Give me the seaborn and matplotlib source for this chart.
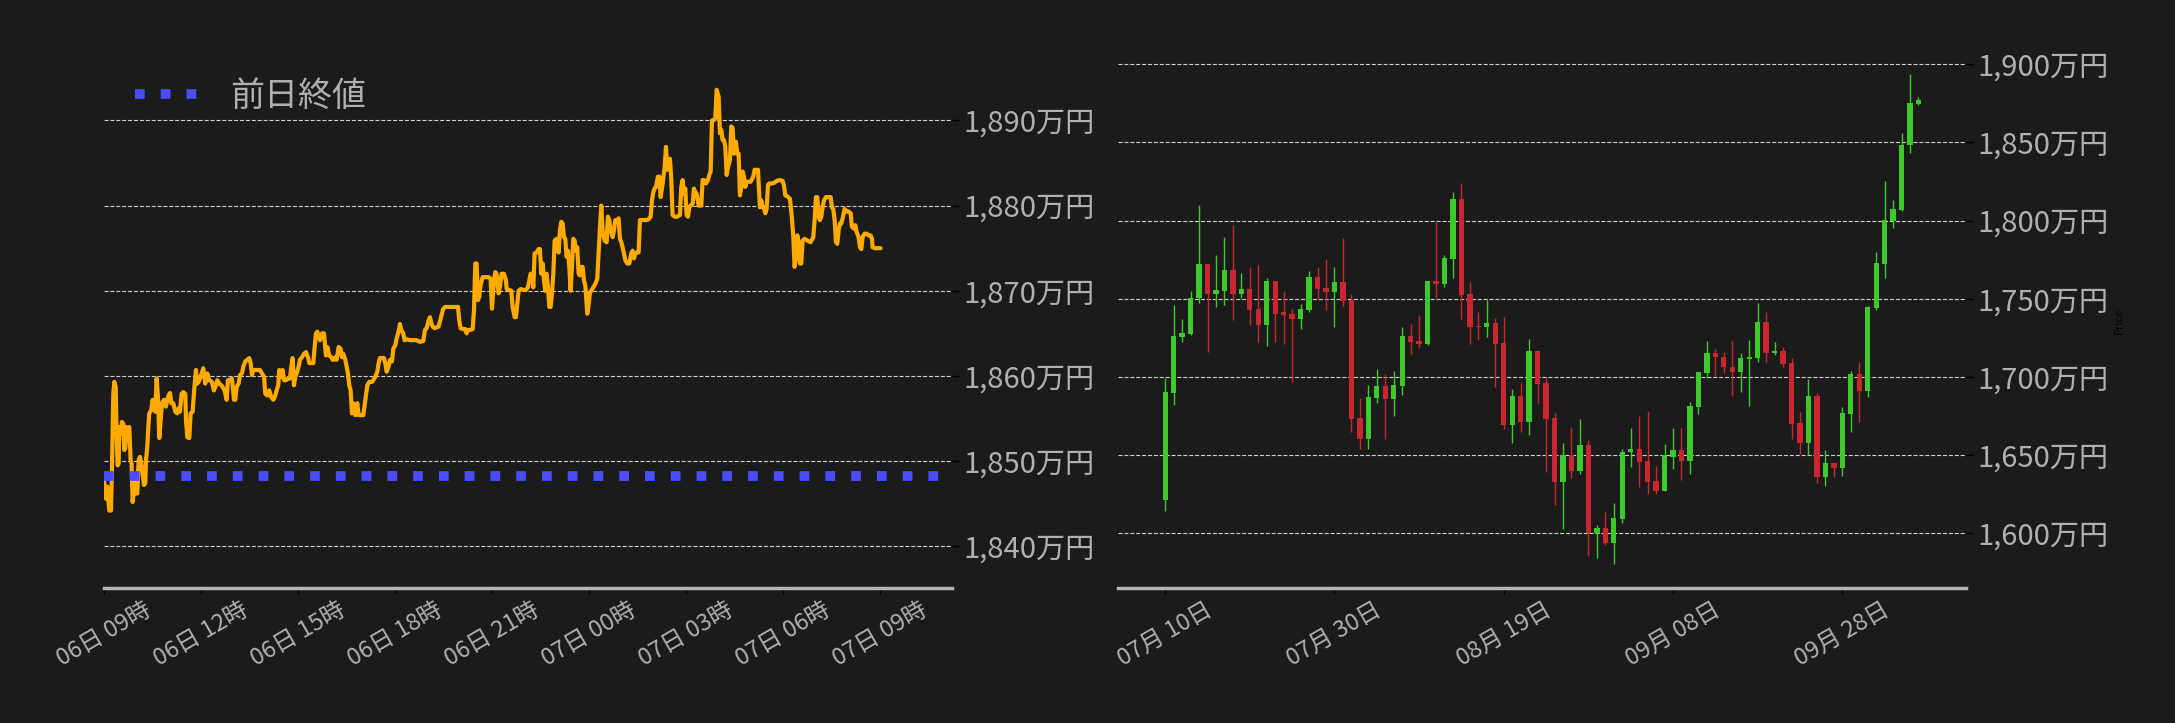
import numpy as np
import pandas as pd
import matplotlib
matplotlib.use("Agg")
import matplotlib.pyplot as plt
import matplotlib.dates as mdates
import matplotlib.ticker as mticker
import seaborn as sns

# 当日の値動き (06日 09:00 からの経過分, 万円)
intraday_min = [
    0, 3.7, 6.2, 9.9, 13.0, 14.9, 17.3, 19.2, 21.7, 23.5, 25.4, 27.2, 28.5, 31.0, 33.4, 35.9,
    37.7, 39.6, 41.5, 44.5, 47.0, 49.5, 51.3, 53.2, 55.1, 56.9, 59.4, 61.9, 64.3, 66.8, 69.3,
    71.8, 74.2, 76.7, 78.0, 80.4, 82.3, 84.1, 87.8, 90.3, 92.8, 95.3, 97.7, 100.2, 102.7,
    105.2, 107.6, 111.4, 115.1, 117.5, 120.0, 122.5, 125.0, 128.7, 132.4, 136.1, 138.6,
    141.0, 144.1, 147.2, 151.0, 152.2, 154.7, 158.4, 160.8, 164.5, 167.6, 170.7, 173.2,
    175.7, 179.4, 184.4, 188.0, 191.8, 195.5, 200.4, 204.1, 207.9, 210.3, 214.0, 217.8,
    220.2, 223.9, 227.6, 230.1, 233.8, 237.5, 241.3, 243.7, 246.2, 249.9, 252.4, 256.1,
    258.6, 262.3, 266.0, 269.7, 272.2, 274.7, 277.1, 280.8, 284.6, 289.5, 293.2, 297.0,
    299.4, 303.1, 306.8, 310.5, 314.3, 318.0, 320.4, 323.5, 325.4, 329.1, 331.6, 334.1,
    337.8, 341.5, 345.2, 347.7, 350.1, 352.6, 355.1, 357.6, 361.3, 363.7, 367.5, 371.2,
    374.9, 378.6, 381.1, 384.8, 388.5, 391.0, 393.4, 395.9, 398.4, 400.9, 404.6, 408.3,
    412.0, 414.5, 418.2, 421.9, 424.4, 426.8, 429.3, 431.8, 435.5, 439.2, 441.7, 444.2,
    447.9, 450.3, 452.8, 455.3, 457.8, 460.2, 462.7, 466.4, 470.1, 472.6, 476.3, 481.3,
    483.8, 486.2, 488.7, 492.4, 497.4, 499.8, 503.5, 507.3, 509.7, 512.2, 517.2, 519.6,
    522.1, 524.6, 528.3, 530.8, 534.5, 537.0, 540.7, 543.1, 546.8, 549.3, 551.8, 555.5,
    558.0, 561.7, 567.9, 574.1, 580.3, 586.4, 592.6, 595.7, 598.8, 602.5, 605.0, 607.5,
    609.9, 613.7, 617.4, 621.1, 623.6, 626.6, 629.7, 633.4, 638.4, 644.6, 650.8, 657.0,
    659.4, 661.9, 666.9, 670.6, 673.0, 675.5, 679.2, 684.2, 686.7, 689.1, 691.6, 694.1,
    696.5, 699.0, 702.7, 705.2, 710.2, 713.9, 717.6, 720.1, 723.8, 726.2, 728.7, 732.4,
    734.9, 738.0, 742.3, 746.0, 747.3, 752.2, 755.9, 758.4, 762.1, 764.6, 767.1, 769.5,
    773.3, 778.2, 783.2, 786.9, 789.3, 791.8, 794.3, 796.8, 799.2, 803.0, 806.7, 809.1,
    811.6, 814.1, 816.6, 819.0, 821.5, 824.0, 826.5, 828.9, 831.4, 833.9, 836.4, 840.1,
    843.8, 846.2, 848.7, 851.2, 853.7, 856.1, 858.6, 861.1, 863.6, 866.0, 868.5, 871.0,
    873.5, 875.9, 878.4, 880.9, 883.4, 885.8, 888.3, 890.8, 893.3, 894.5, 897.0, 899.4,
    901.9, 904.4, 908.1, 911.8, 915.5, 918.0, 920.5, 923.0, 925.4, 929.1, 932.9, 935.3,
    937.8, 940.3, 944.0, 946.5, 948.9, 952.6, 955.1, 957.6, 960.1, 962.5, 965.0, 967.5,
    971.2, 974.9, 978.6, 981.1, 983.6, 986.0, 989.8, 992.2, 994.7, 997.2, 1002.1, 1007.1,
    1010.8, 1014.5, 1017.0, 1019.5, 1021.9, 1024.4, 1028.1, 1030.6, 1033.1, 1036.8, 1040.5,
    1043.0, 1045.4, 1047.9, 1050.4, 1052.9, 1055.3, 1059.0, 1064.0, 1068.9, 1071.4, 1073.9,
    1076.4, 1078.8, 1081.3, 1083.8, 1086.3, 1088.7, 1092.5, 1094.9, 1097.4, 1099.9, 1103.6,
    1108.5, 1111.0, 1113.5, 1117.2, 1120.9, 1123.4, 1125.9, 1128.3, 1130.8, 1134.5, 1137.0,
    1140.7, 1143.2, 1145.7, 1148.1, 1150.6, 1153.1, 1155.6, 1158.0, 1161.7, 1164.2, 1166.7,
    1169.2, 1172.9, 1175.3, 1177.8, 1180.3, 1182.8, 1185.2, 1187.7, 1190.2, 1192.7, 1196.4,
    1200.1, 1205.0, 1207.5, 1211.2, 1213.7, 1217.4, 1219.9, 1222.4, 1224.8, 1227.3, 1229.8,
    1232.3, 1234.7, 1239.7, 1244.6, 1248.3, 1254.5, 1259.5, 1261.9, 1264.4, 1268.1, 1273.1,
    1276.8, 1279.3, 1281.7, 1284.2, 1286.7, 1289.1, 1291.6, 1294.1, 1296.6, 1300.3, 1305.2,
    1311.4, 1316.4, 1318.8, 1321.3, 1323.8, 1326.3, 1328.7, 1331.2, 1333.7, 1336.2, 1339.9,
    1344.8, 1348.6, 1351.0, 1353.5, 1356.0, 1358.5, 1360.9, 1363.4, 1365.9, 1368.3, 1370.8,
    1374.5, 1378.2, 1382.0, 1385.7, 1388.1, 1391.9, 1394.3, 1396.8, 1400.5, 1403.0, 1405.5,
    1407.9, 1411.6, 1415.4, 1419.1, 1422.8, 1425.3, 1426.5, 1431.5, 1436.4, 1441.3,
]
intraday_price = [
    1847.8, 1845.6, 1847.0, 1844.2, 1844.2, 1849.3, 1857.9, 1859.3, 1858.7, 1853.2, 1849.5,
    1849.7, 1854.0, 1853.2, 1854.6, 1854.4, 1851.3, 1851.5, 1854.0, 1853.6, 1854.0, 1850.1,
    1849.7, 1845.2, 1846.2, 1848.1, 1846.2, 1846.2, 1850.1, 1850.5, 1849.7, 1848.5, 1847.2,
    1847.4, 1850.1, 1851.7, 1854.0, 1855.6, 1856.0, 1857.2, 1856.4, 1855.8, 1859.7, 1857.5,
    1852.7, 1854.8, 1856.8, 1857.2, 1856.4, 1857.2, 1857.7, 1858.0, 1856.8, 1856.8, 1855.8,
    1855.6, 1856.2, 1855.8, 1857.9, 1858.1, 1857.9, 1854.8, 1852.8, 1852.7, 1855.6, 1855.8,
    1858.5, 1860.7, 1859.1, 1859.3, 1859.9, 1860.9, 1859.1, 1860.3, 1859.5, 1859.3, 1858.3,
    1858.9, 1859.5, 1859.1, 1858.9, 1858.7, 1858.3, 1857.2, 1859.5, 1859.5, 1859.7, 1857.2,
    1857.2, 1858.7, 1859.1, 1860.1, 1860.3, 1861.1, 1861.7, 1861.9, 1862.1, 1861.5, 1860.1,
    1860.7, 1860.7, 1860.7, 1860.7, 1860.3, 1859.9, 1857.9, 1857.7, 1858.3, 1857.5, 1857.2,
    1857.7, 1858.3, 1858.9, 1860.7, 1859.9, 1860.7, 1859.5, 1859.5, 1859.7, 1859.7, 1861.1,
    1862.1, 1858.9, 1859.9, 1860.3, 1861.1, 1861.9, 1862.2, 1862.6, 1862.8, 1862.2, 1861.5,
    1861.5, 1861.5, 1863.4, 1865.0, 1865.2, 1864.6, 1864.2, 1865.0, 1865.0, 1862.4, 1863.4,
    1862.4, 1862.2, 1861.9, 1861.9, 1862.2, 1861.9, 1863.4, 1863.2, 1862.2, 1862.6, 1861.9,
    1861.1, 1860.3, 1858.9, 1858.3, 1855.6, 1856.8, 1855.4, 1856.8, 1855.4, 1855.4, 1855.4,
    1856.6, 1857.7, 1858.9, 1859.3, 1859.3, 1859.5, 1859.9, 1860.5, 1861.5, 1862.1, 1862.1,
    1862.1, 1861.5, 1860.5, 1861.1, 1861.9, 1861.7, 1863.2, 1863.6, 1864.4, 1865.2, 1866.1,
    1865.4, 1865.0, 1864.2, 1864.3, 1864.2, 1864.2, 1864.2, 1864.0, 1864.1, 1865.4, 1865.6,
    1866.5, 1866.9, 1866.2, 1865.8, 1865.6, 1865.7, 1865.8, 1866.4, 1867.1, 1867.9, 1868.1,
    1868.1, 1868.1, 1868.1, 1868.1, 1866.5, 1865.6, 1865.5, 1865.5, 1865.0, 1865.4, 1865.4,
    1865.5, 1867.7, 1873.2, 1873.2, 1868.9, 1869.3, 1870.7, 1871.6, 1871.6, 1871.6, 1871.6,
    1871.4, 1867.9, 1871.2, 1872.2, 1872.0, 1869.7, 1870.5, 1872.0, 1872.0, 1871.2, 1870.2,
    1870.1, 1870.0, 1868.1, 1866.9, 1866.9, 1868.5, 1870.0, 1870.2, 1870.1, 1870.1, 1870.4,
    1871.2, 1872.0, 1872.0, 1870.4, 1874.4, 1874.5, 1874.9, 1874.9, 1872.0, 1873.2, 1871.2,
    1870.0, 1872.0, 1870.4, 1868.1, 1868.1, 1869.6, 1872.0, 1875.9, 1876.1, 1874.5, 1877.1,
    1878.1, 1877.9, 1876.3, 1876.1, 1874.0, 1874.7, 1872.8, 1870.0, 1872.8, 1876.1, 1875.9,
    1874.7, 1875.1, 1872.0, 1871.8, 1872.8, 1872.8, 1871.2, 1870.6, 1869.6, 1867.3, 1868.3,
    1869.8, 1870.0, 1870.4, 1870.8, 1871.4, 1874.4, 1877.5, 1880.0, 1877.1, 1875.9, 1875.7,
    1878.7, 1878.3, 1877.1, 1876.3, 1877.1, 1878.3, 1878.3, 1878.5, 1876.1, 1875.7, 1875.1,
    1874.4, 1873.6, 1873.2, 1873.2, 1874.4, 1874.7, 1873.8, 1874.4, 1874.5, 1874.5, 1878.3,
    1878.3, 1878.3, 1878.3, 1878.4, 1878.7, 1880.6, 1881.6, 1882.0, 1882.2, 1883.4, 1883.4,
    1881.0, 1882.6, 1884.5, 1886.9, 1884.2, 1885.3, 1885.5, 1883.0, 1878.9, 1878.7, 1878.7,
    1878.9, 1882.2, 1883.0, 1881.4, 1882.0, 1878.9, 1878.7, 1879.8, 1880.0, 1880.2, 1882.0,
    1881.6, 1881.4, 1880.0, 1880.0, 1883.0, 1883.0, 1882.6, 1883.0, 1883.6, 1884.0, 1890.0,
    1890.0, 1890.2, 1893.6, 1892.8, 1888.5, 1888.9, 1887.7, 1887.7, 1886.9, 1883.6, 1884.5,
    1885.3, 1889.3, 1889.1, 1886.1, 1887.5, 1886.1, 1886.1, 1881.2, 1882.2, 1884.0, 1883.4,
    1882.2, 1882.8, 1882.8, 1882.8, 1883.4, 1884.2, 1884.2, 1884.2, 1879.8, 1880.6, 1879.8,
    1879.8, 1879.1, 1879.6, 1882.4, 1882.6, 1882.6, 1882.7, 1882.9, 1883.0, 1882.9, 1882.4,
    1881.2, 1881.1, 1880.8, 1878.5, 1876.3, 1872.8, 1874.0, 1876.5, 1875.7, 1873.2, 1873.2,
    1875.9, 1876.1, 1875.9, 1875.7, 1876.3, 1878.3, 1881.0, 1881.0, 1878.7, 1878.3, 1878.7,
    1879.8, 1880.6, 1881.0, 1881.0, 1881.0, 1879.8, 1879.6, 1878.3, 1875.7, 1875.5, 1877.1,
    1877.9, 1877.9, 1878.5, 1879.6, 1879.3, 1879.3, 1879.1, 1877.5, 1877.3, 1877.7, 1876.9,
    1876.3, 1875.1, 1874.9, 1876.3, 1876.7, 1876.7, 1876.5, 1876.5, 1876.1, 1875.1, 1875.0,
    1875.0, 1875.0,
]
prev_close = 1848.3

# 日足 (07月10日から, 万円)
candle_start = "2025-07-10"
opens = [
    1621.5, 1690.0, 1725.8, 1727.7, 1750.3, 1772.1, 1753.3, 1755.2, 1768.4, 1753.3,
    1756.3, 1743.5, 1733.5, 1761.4, 1741.6, 1740.1, 1737.3, 1743.1, 1763.9, 1756.9,
    1754.6, 1760.8, 1749.3, 1673.8, 1660.6, 1686.8, 1694.2, 1686.1, 1694.4, 1726.2,
    1723.0, 1721.3, 1761.4, 1759.1, 1775.7, 1813.9, 1752.9, 1732.6, 1732.2, 1734.3,
    1721.5, 1669.5, 1687.8, 1671.4, 1716.6, 1696.2, 1673.8, 1633.0, 1649.9, 1640.1,
    1656.3, 1600.0, 1603.2, 1594.0, 1609.4, 1652.2, 1653.7, 1646.1, 1633.3, 1627.3,
    1649.0, 1653.1, 1646.5, 1681.0, 1702.8, 1715.1, 1712.6, 1706.4, 1703.4, 1711.7,
    1712.4, 1735.2, 1715.1, 1716.6, 1708.9, 1670.6, 1657.6, 1687.8, 1636.2, 1644.8,
    1642.0, 1676.5, 1701.9, 1691.3, 1744.3, 1772.5, 1799.8, 1806.8, 1848.0, 1874.6,
]
highs = [
    1699.6, 1745.8, 1736.9, 1754.8, 1809.8, 1772.1, 1777.8, 1789.3, 1797.0, 1766.3,
    1770.1, 1771.4, 1763.5, 1761.4, 1754.8, 1743.3, 1746.5, 1767.6, 1770.1, 1775.3,
    1770.1, 1788.7, 1752.9, 1686.4, 1694.7, 1704.9, 1701.7, 1704.1, 1731.8, 1733.7,
    1739.4, 1761.4, 1798.9, 1777.8, 1818.1, 1823.9, 1760.6, 1741.2, 1749.0, 1737.5,
    1738.6, 1692.1, 1696.2, 1724.1, 1716.6, 1699.6, 1676.8, 1657.6, 1668.0, 1672.9,
    1659.5, 1605.1, 1613.4, 1619.2, 1653.7, 1667.2, 1675.1, 1678.3, 1642.9, 1656.9,
    1667.2, 1667.2, 1683.8, 1703.2, 1722.8, 1717.9, 1715.8, 1723.0, 1715.4, 1723.7,
    1747.1, 1741.6, 1722.2, 1719.2, 1711.9, 1677.4, 1698.5, 1689.6, 1653.3, 1644.8,
    1680.6, 1703.6, 1709.4, 1745.4, 1780.0, 1825.2, 1813.0, 1855.9, 1893.6, 1878.9,
]
lows = [
    1614.5, 1681.9, 1722.2, 1726.7, 1747.1, 1715.8, 1744.6, 1745.8, 1736.2, 1750.3,
    1733.0, 1722.2, 1719.6, 1722.2, 1720.9, 1696.6, 1730.5, 1741.2, 1749.0, 1743.1,
    1731.8, 1745.2, 1664.6, 1653.9, 1653.9, 1683.2, 1660.1, 1674.8, 1688.3, 1714.5,
    1718.3, 1720.3, 1750.3, 1757.4, 1763.1, 1736.9, 1720.9, 1723.5, 1725.4, 1693.8,
    1666.5, 1657.6, 1664.6, 1662.7, 1683.2, 1639.4, 1617.9, 1602.6, 1635.2, 1637.7,
    1585.3, 1584.0, 1592.2, 1580.2, 1606.4, 1642.2, 1629.4, 1625.4, 1625.4, 1627.3,
    1641.4, 1634.3, 1637.7, 1676.1, 1699.6, 1700.9, 1702.8, 1688.1, 1690.2, 1681.2,
    1709.4, 1709.4, 1713.9, 1706.6, 1660.1, 1650.5, 1649.9, 1632.0, 1630.1, 1635.8,
    1636.9, 1664.6, 1671.2, 1687.2, 1742.9, 1763.1, 1795.1, 1805.8, 1842.9, 1874.0,
]
closes = [
    1690.4, 1726.2, 1727.9, 1750.3, 1772.1, 1753.3, 1755.7, 1768.4, 1753.3, 1756.3,
    1743.1, 1733.5, 1761.4, 1740.5, 1739.9, 1737.3, 1743.5, 1763.9, 1756.5, 1754.6,
    1760.8, 1748.8, 1673.3, 1660.6, 1687.2, 1694.2, 1686.1, 1694.9, 1726.2, 1722.6,
    1721.3, 1761.4, 1759.1, 1775.9, 1813.9, 1752.7, 1732.2, 1732.2, 1734.3, 1721.3,
    1669.5, 1687.8, 1671.4, 1716.6, 1695.7, 1673.3, 1633.0, 1649.9, 1640.1, 1656.3,
    1600.0, 1603.2, 1594.0, 1609.6, 1651.8, 1653.7, 1645.8, 1633.0, 1627.3, 1649.9,
    1653.1, 1646.5, 1681.2, 1703.0, 1715.1, 1712.6, 1706.2, 1703.4, 1711.9, 1712.8,
    1735.2, 1715.1, 1716.6, 1708.5, 1670.2, 1657.6, 1687.8, 1636.2, 1644.8, 1642.0,
    1677.0, 1701.9, 1691.3, 1744.8, 1772.9, 1800.2, 1807.2, 1848.4, 1875.3, 1877.2,
]

BG = "#1b1b1b"
TXT = "#b0b0b0"
UP = "#3dc82b"
DOWN = "#c9262f"

sns.set_theme(style="dark", rc={"figure.facecolor": BG, "axes.facecolor": BG})
plt.rcParams["font.family"] = ["Noto Sans CJK JP", "DejaVu Sans"]

fig = plt.figure(figsize=(21.75, 7.23), dpi=100)
ax1 = fig.add_axes([0.0478, 0.1867, 0.3897, 0.7386])
ax2 = fig.add_axes([0.5140, 0.1867, 0.3897, 0.7386])

# --- 左: 当日チャート ---
t0 = pd.Timestamp("2025-10-06 09:00")
df = pd.DataFrame({
    "time": t0 + pd.to_timedelta(intraday_min, unit="min"),
    "price": intraday_price,
})
sns.lineplot(data=df, x="time", y="price", ax=ax1, color="#ffaa00", lw=3,
             estimator=None, sort=False, legend=False)
ax1.axhline(prev_close, color="#4b4bff", ls=":", lw=7, label="前日終値")
ax1.legend(loc="upper left", frameon=False, fontsize=24.5, labelcolor=TXT,
           bbox_to_anchor=(0.0, 1.01))

ax1.set_xlim(t0, t0 + pd.Timedelta(minutes=1573))
ax1.set_ylim(1835.1, 1897.8)
ax1.set_yticks(np.arange(1840, 1891, 10))
ax1.xaxis.set_major_locator(mdates.HourLocator(byhour=range(0, 24, 3)))
ax1.xaxis.set_major_formatter(mdates.DateFormatter("%d日 %H時"))

# --- 右: 日足ローソク ---
dates = pd.date_range(candle_start, periods=len(opens), freq="D")
xd = mdates.date2num(dates)
o = np.array(opens)
c = np.array(closes)
colors = np.where(c >= o, UP, DOWN)
ax2.vlines(xd, lows, highs, colors=colors, lw=1, zorder=2)
ax2.bar(xd, np.abs(c - o), bottom=np.minimum(o, c), width=0.63, color=colors,
        linewidth=0, zorder=3)

x0 = mdates.date2num(pd.Timestamp(candle_start))
ax2.set_xlim(x0 - 5.58, x0 + 94.56)
ax2.set_ylim(1565.0, 1906.5)
ax2.set_yticks(np.arange(1600, 1901, 50))
ax2.set_xticks(x0 + np.arange(0, 81, 20))
ax2.xaxis.set_major_formatter(mdates.DateFormatter("%m月 %d日"))
ax2.set_ylabel("Price", fontsize=8, color="black")
ax2.yaxis.set_label_position("right")

# --- 共通スタイル ---
for ax in (ax1, ax2):
    ax.set_facecolor(BG)
    ax.set_xlabel("")
    if ax is ax1:
        ax.set_ylabel("")
    for side in ("top", "left", "right"):
        ax.spines[side].set_visible(False)
    ax.spines["bottom"].set_visible(True)
    ax.spines["bottom"].set_color("#b4b4b4")
    ax.spines["bottom"].set_linewidth(2.5)
    ax.yaxis.tick_right()
    ax.yaxis.set_major_formatter(mticker.FuncFormatter(lambda v, p: f"{v:,.0f}万円"))
    ax.grid(False)
    ax.yaxis.grid(True, ls="--", lw=0.8, color="#cfcfcf")
    ax.set_axisbelow(True)
    ax.tick_params(axis="y", which="major", right=True, left=False, labelright=True,
                   labelleft=False, color="black", length=5, width=1,
                   labelcolor=TXT, labelsize=21)
    ax.tick_params(axis="x", which="major", bottom=True, color="black", length=4,
                   width=1, labelcolor=TXT, labelsize=17, labelrotation=30)

fig.savefig("out.png", dpi=100, facecolor=BG)
